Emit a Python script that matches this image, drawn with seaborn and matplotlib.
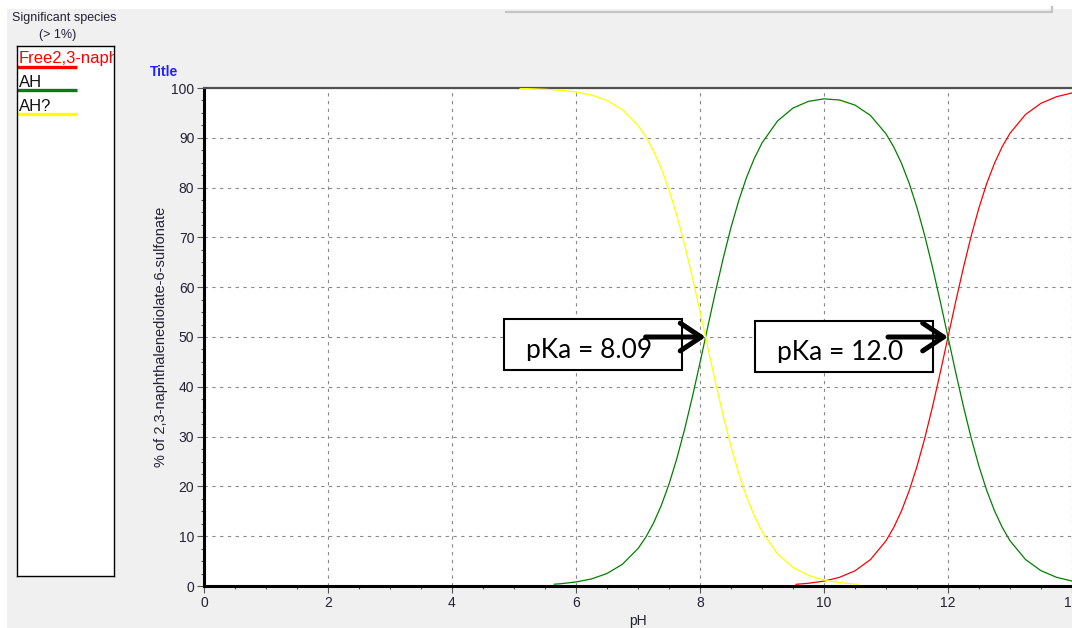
import numpy as np
import pandas as pd
import matplotlib
matplotlib.use("Agg")
import matplotlib.pyplot as plt
import seaborn as sns
from matplotlib.patches import Rectangle
from matplotlib.lines import Line2D
from matplotlib.transforms import IdentityTransform, Bbox
from matplotlib.ticker import MultipleLocator

# ---------------- data ----------------
species = ["Free2,3-naphthalenediolate-6-sulfonate", "AH", "AH?"]
species_colors = ["#ff0000", "#008000", "#ffff00"]

ph_a = [9.55, 9.75, 10.0, 10.25, 10.5, 10.75, 11.0, 11.125, 11.25, 11.375, 11.5,
        11.625, 11.75, 11.875, 12.0, 12.125, 12.25, 12.375, 12.5, 12.625, 12.75,
        12.875, 13.0, 13.25, 13.5, 13.75, 14.0]
pct_a = [0.34, 0.55, 0.98, 1.74, 3.05, 5.31, 9.08, 11.76, 15.09, 19.16, 24.03,
         29.66, 36.00, 42.85, 50.00, 57.15, 64.00, 70.34, 75.97, 80.83, 84.90,
         88.23, 90.91, 94.68, 96.93, 98.25, 99.01]

ph_ah = [5.65, 5.75, 6.0, 6.25, 6.5, 6.75, 7.0, 7.125, 7.25, 7.375, 7.5, 7.625,
         7.75, 7.875, 8.0, 8.125, 8.25, 8.375, 8.5, 8.625, 8.75, 8.875, 9.0, 9.25,
         9.5, 9.75, 10.0, 10.25, 10.5, 10.75, 11.0, 11.125, 11.25, 11.375, 11.5,
         11.625, 11.75, 11.875, 12.0, 12.125, 12.25, 12.375, 12.5, 12.625, 12.75,
         12.875, 13.0, 13.25, 13.5, 13.75, 14.0]
pct_ah = [0.36, 0.45, 0.81, 1.42, 2.51, 4.37, 7.52, 9.78, 12.63, 16.16, 20.45,
          25.53, 31.37, 37.87, 44.84, 52.02, 59.10, 65.84, 72.01, 77.40, 82.02,
          85.84, 88.96, 93.37, 95.97, 97.32, 97.82, 97.59, 96.57, 94.48, 90.80,
          88.16, 84.87, 80.83, 75.97, 70.33, 64.00, 57.15, 50.00, 42.85, 36.00,
          29.66, 24.03, 19.17, 15.10, 11.77, 9.09, 5.32, 3.07, 1.75, 0.99]

ph_ah2 = [5.1, 5.25, 5.5, 5.75, 6.0, 6.25, 6.5, 6.75, 7.0, 7.125, 7.25, 7.375,
          7.5, 7.625, 7.75, 7.875, 8.0, 8.125, 8.25, 8.375, 8.5, 8.625, 8.75,
          8.875, 9.0, 9.25, 9.5, 9.75, 10.0, 10.25, 10.5, 10.55]
pct_ah2 = [99.90, 99.86, 99.74, 99.55, 99.19, 98.58, 97.49, 95.63, 92.48, 90.22,
           87.37, 83.84, 79.55, 74.47, 68.63, 62.13, 55.16, 47.98, 40.90, 34.16,
           27.98, 22.59, 17.94, 14.09, 10.95, 6.46, 3.73, 2.13, 1.20, 0.68, 0.38,
           0.33]

pka_values = [8.09, 12.0]
pka_labels = ["pKa = 8.09", "pKa = 12.0"]

x_ticks = [0, 2, 4, 6, 8, 10, 12, 14]
y_ticks = [0, 10, 20, 30, 40, 50, 60, 70, 80, 90, 100]

# ---------------- figure ----------------
W, H = 1072, 628
plt.rcParams["font.family"] = ["Liberation Sans", "DejaVu Sans"]
fig = plt.figure(figsize=(W / 100, H / 100), dpi=100, facecolor="#f0f0f0")


def fx(x):
    return x / W


def fy(y):
    return 1 - y / H


# white strips around the window panel
fig.patches.append(Rectangle((0, fy(9)), 1, 9 / H, transform=fig.transFigure,
                             facecolor="white", edgecolor="none", zorder=0))
fig.patches.append(Rectangle((0, 0), 7 / W, 1, transform=fig.transFigure,
                             facecolor="white", edgecolor="none", zorder=0))
# control border at the top
fig.add_artist(Line2D([fx(506), fx(1052), fx(1052)], [fy(12), fy(12), fy(7)],
                      transform=fig.transFigure, color="#c4c4c4", lw=1.6))

ax = fig.add_axes([fx(204), fy(586), (W - 204) / W, (586 - 88) / H])
ax.set_facecolor("white")

df = pd.concat([
    pd.DataFrame({"pH": ph_a, "pct": pct_a, "species": species[0]}),
    pd.DataFrame({"pH": ph_ah, "pct": pct_ah, "species": species[1]}),
    pd.DataFrame({"pH": ph_ah2, "pct": pct_ah2, "species": species[2]}),
])
sns.lineplot(data=df, x="pH", y="pct", hue="species", hue_order=species,
             palette=dict(zip(species, species_colors)), estimator=None,
             sort=False, legend=False, lw=0.9, ax=ax, zorder=3)

ax.set_xlim(0, 14)
ax.set_ylim(0, 100)
ax.set_xticks(x_ticks)
ax.set_yticks(y_ticks)
ax.xaxis.set_minor_locator(MultipleLocator(0.5))
ax.yaxis.set_minor_locator(MultipleLocator(2.5))
ax.tick_params(which="major", direction="out", length=5, width=0.8,
               color="#555555", labelsize=10, labelcolor="#222233", pad=2)
ax.tick_params(which="minor", direction="out", length=2.5, width=0.8,
               color="#555555")
ax.grid(True, which="major", color="#8a8a8a", lw=0.8, ls=(0, (3, 4)))
ax.set_axisbelow(True)
for s in ["left", "bottom"]:
    ax.spines[s].set_linewidth(2.2)
    ax.spines[s].set_color("black")
ax.spines["top"].set_linewidth(1.6)
ax.spines["top"].set_color("#505050")
ax.spines["right"].set_visible(False)
ax.set_xlabel("pH", fontsize=10, color="#222233", labelpad=3)
ax.set_ylabel("% of 2,3-naphthalenediolate-6-sulfonate", fontsize=10.5,
              color="#222233", labelpad=2)

fig.text(fx(150), fy(72), "Title", color="#2020ff", fontsize=10,
         fontweight="bold", va="center", ha="left")

# ---------------- pKa annotations ----------------
box_dx = [-202, -193]
box_dy = [18, 16]
idt = IdentityTransform()
for pka, lab, dx, dy in zip(pka_values, pka_labels, box_dx, box_dy):
    px, py = ax.transData.transform((pka, 50))
    left, top = px + dx, py + dy
    bw, bh = 178, 51
    ax.add_patch(Rectangle((left, top - bh), bw, bh, transform=idt,
                           facecolor="white", edgecolor="black", lw=1.5,
                           zorder=5, clip_on=False))
    t = ax.text(left + 22, top - 39, lab, transform=idt, fontsize=19,
                family=["Lato", "DejaVu Sans"], color="black", ha="left",
                va="baseline", zorder=6)
    t.set_clip_box(Bbox([[left, top - 42], [left + bw, top]]))
    t.set_clip_on(True)
    ax.annotate("", xy=(pka, 50), xytext=(-60, 0), textcoords="offset pixels",
                arrowprops=dict(arrowstyle="->,head_length=0.75,head_width=0.5",
                                lw=3.6, color="black", mutation_scale=20,
                                shrinkA=0, shrinkB=0),
                zorder=8, annotation_clip=False)

# ---------------- species panel ----------------
fig.text(fx(64), fy(18), "Significant species", fontsize=9, color="#222233",
         ha="center", va="center")
fig.text(fx(58), fy(35), "(> 1%)", fontsize=9, color="#222233",
         ha="center", va="center")

lax = fig.add_axes([fx(17), fy(576), 97 / W, 530 / H])
lax.set_xlim(0, 97)
lax.set_ylim(530, 0)
lax.set_xticks([])
lax.set_yticks([])
lax.set_facecolor("white")
for s in lax.spines.values():
    s.set_linewidth(1.0)
    s.set_color("black")
text_colors = ["#ff0000", "#111111", "#111111"]
for i, (name, col, tcol) in enumerate(zip(species, species_colors, text_colors)):
    base = 17 + 24 * i
    lax.text(1.5, base, name, color=tcol, fontsize=12, ha="left",
             va="baseline", clip_on=True)
    yl = base + 4 - (1 if i else 0)
    lax.plot([0, 60], [yl, yl], color=col, lw=2.4, solid_capstyle="butt",
             clip_on=False)

fig.savefig("out.png", dpi=100, facecolor=fig.get_facecolor())
